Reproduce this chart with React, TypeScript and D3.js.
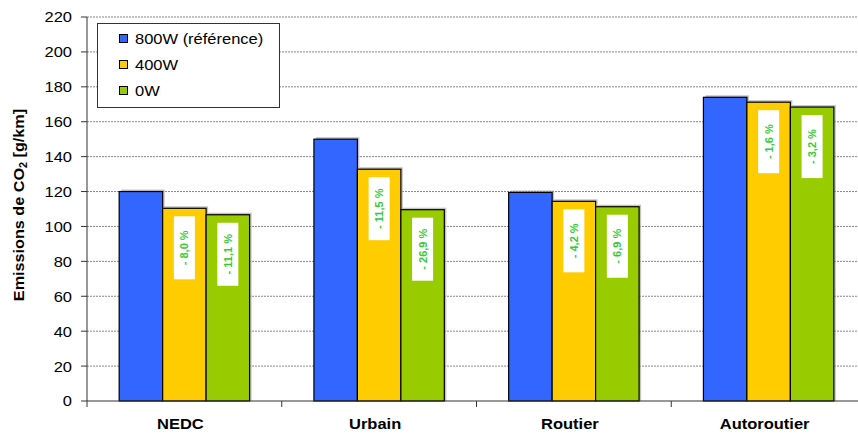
import React from "react";
import * as d3 from "d3";

const categories = ["NEDC", "Urbain", "Routier", "Autoroutier"];
const seriesNames = ["800W (référence)", "400W", "0W"];
const seriesColors = ["#3366ff", "#ffcc00", "#99cc00"];
const values800 = [120, 150, 119.5, 174];
const values400 = [110.4, 132.8, 114.4, 171.2];
const values0 = [106.7, 109.6, 111.3, 168.4];
const labels400 = ["- 8,0 %", "- 11,5 %", "- 4,2 %", "- 1,6 %"];
const labels0 = ["- 11,1 %", "- 26,9 %", "- 6,9 %", "- 3,2 %"];
const yTicks = [0, 20, 40, 60, 80, 100, 120, 140, 160, 180, 200, 220];

const font = "Arial, 'Liberation Sans', sans-serif";
const SX = 1.1;

function T(props: { x: number; y: number; anchor?: string; size: number; bold?: boolean; dy?: string; children: React.ReactNode }) {
  return (
    <text
      transform={`translate(${props.x},${props.y}) scale(${SX},1)`}
      textAnchor={props.anchor || "start"}
      dy={props.dy}
      fontFamily={font}
      fontSize={props.size}
      fontWeight={props.bold ? "bold" : "normal"}
      fill="#000"
    >
      {props.children}
    </text>
  );
}

export default function App() {
  const W = 858, H = 434;
  const left = 87, right = 866, top = 17, bottom = 401;
  const x = d3.scaleBand<string>().domain(categories).range([left, right]).paddingInner(0).paddingOuter(0);
  const y = d3.scaleLinear().domain([0, 220]).range([bottom, top]);
  const inner = d3.scaleBand<number>().domain([0, 1, 2]).range([0, x.bandwidth()]).paddingOuter(0.74).paddingInner(0);
  const series = [values800, values400, values0];
  const labels = [null, labels400, labels0];

  return (
    <svg width={W} height={H} style={{ position: "absolute", left: 0, top: 0, background: "#fff" }}>
      <rect x={0} y={0} width={W} height={H} fill="#fff" />
      {yTicks.map((t) => (
        <g key={t}>
          {t > 0 && (
            <line x1={left} x2={W} y1={y(t)} y2={y(t)} stroke="#888" strokeWidth={1} strokeDasharray="2,1" />
          )}
          <line x1={left - 6} x2={left} y1={y(t)} y2={y(t)} stroke="#333" />
          <T x={left - 15} y={y(t)} dy="0.36em" anchor="end" size={15}>
            {t}
          </T>
        </g>
      ))}
      {categories.map((c, ci) =>
        series.map((vals, si) => {
          const bx = (x(c) as number) + (inner(si) as number);
          const bw = inner.bandwidth();
          const by = y(vals[ci]);
          const bh = bottom - by;
          return (
            <g key={c + si}>
              <rect x={bx + 2} y={by - 2} width={bw} height={bh + 2} fill="#999" opacity={0.6} />
              <rect x={bx} y={by} width={bw} height={bh} fill={seriesColors[si]} stroke="#000" strokeWidth={1.2} />
            </g>
          );
        })
      )}
      {categories.map((c, ci) =>
        series.map((vals, si) => {
          const lab = labels[si];
          if (!lab) return null;
          const bx = (x(c) as number) + (inner(si) as number);
          const bw = inner.bandwidth();
          const by = y(vals[ci]);
          const cx = bx + bw / 2;
          const bTop = by + 8;
          const bH = 63;
          return (
            <g key={"l" + c + si}>
              <rect x={cx - 10.5} y={bTop} width={21} height={bH} fill="#fff" />
              <text
                transform={`translate(${cx},${bTop + bH / 2}) rotate(-90)`}
                textAnchor="middle"
                dy="0.36em"
                fontFamily={font}
                fontSize={11}
                fontWeight="bold"
                fill="#33cc33"
              >
                {lab[ci]}
              </text>
            </g>
          );
        })
      )}
      <line x1={left} x2={left} y1={top} y2={bottom} stroke="#333" strokeWidth={1} />
      <line x1={left} x2={W} y1={bottom} y2={bottom} stroke="#333" strokeWidth={1.2} />
      {categories.map((c, i) => (
        <line key={"t" + i} x1={(x(c) as number)} x2={(x(c) as number)} y1={bottom} y2={bottom + 6} stroke="#333" />
      ))}
      {categories.map((c) => (
        <T key={"c" + c} x={(x(c) as number) + x.bandwidth() / 2 - 4} y={429} anchor="middle" size={15} bold>
          {c}
        </T>
      ))}
      <text transform={`translate(24,205) rotate(-90) scale(1.08,1)`} textAnchor="middle" fontFamily={font} fontSize={15} fontWeight="bold" fill="#000">
        Emissions de CO<tspan fontSize={10} dy={3}>2</tspan><tspan dy={-3}> [g/km]</tspan>
      </text>
      <g>
        <rect x={97.5} y={23.5} width={182} height={84} fill="#fff" stroke="#333" strokeWidth={1} />
        {seriesNames.map((n, i) => (
          <g key={n}>
            <rect x={119.5} y={34.5 + i * 26} width={8} height={8} fill={seriesColors[i]} stroke="#000" />
            <T x={135} y={39 + i * 26} dy="0.36em" size={15}>
              {n}
            </T>
          </g>
        ))}
      </g>
    </svg>
  );
}
